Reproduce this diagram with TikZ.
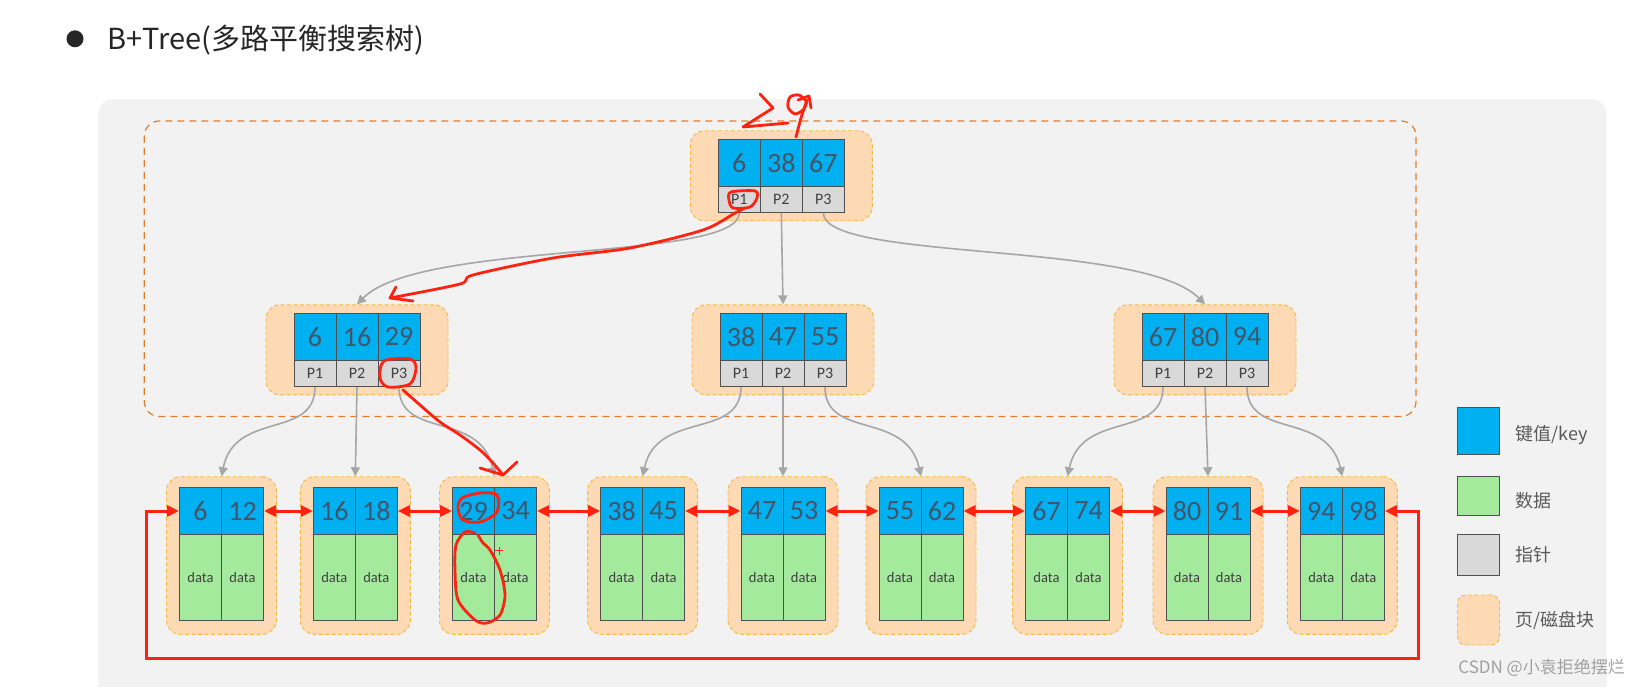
\documentclass[tikz,border=0pt]{standalone}
\usepackage{fontspec}
\setmainfont{Carlito}
\newfontfamily\cjk{Noto Sans CJK SC}
\usetikzlibrary{arrows.meta}
\definecolor{keyblue}{RGB}{0,176,240}
\definecolor{datagreen}{RGB}{164,234,157}
\definecolor{ptrgray}{RGB}{217,217,217}
\definecolor{cellline}{RGB}{80,80,80}
\definecolor{keytext}{RGB}{68,84,106}
\definecolor{darktext}{RGB}{64,64,64}
\definecolor{pagefill}{RGB}{253,217,180}
\definecolor{pageline}{RGB}{245,185,60}
\definecolor{outerline}{RGB}{225,125,45}
\definecolor{bggray}{RGB}{242,242,242}
\definecolor{linkgray}{RGB}{166,166,166}
\definecolor{redline}{RGB}{255,34,17}
\definecolor{titletext}{RGB}{38,38,38}
\definecolor{legendtext}{RGB}{89,89,89}
\definecolor{wmtext}{RGB}{160,160,160}
\tikzset{
  cellbase/.style={draw=cellline, line width=1pt, inner sep=0pt, minimum width=42pt},
  keycell/.style={cellbase, fill=keyblue, minimum height=47pt, text=keytext, font=\fontsize{28}{28}\selectfont},
  ptrcell/.style={cellbase, fill=ptrgray, minimum height=26pt, text=darktext, font=\fontsize{16}{16}\selectfont},
  datacell/.style={cellbase, fill=datagreen, minimum height=85.5pt, text=darktext, font=\fontsize{14.5}{14.5}\selectfont},
  pagebox/.style={draw=pageline, fill=pagefill, dash pattern=on 4pt off 2.5pt, line width=0.9pt, rounded corners=14pt, inner sep=0pt},
  link/.style={draw=linkgray, line width=1.6pt, -{Triangle[length=9pt,width=9pt]}},
  redlink/.style={draw=redline, line width=3pt, {Triangle[length=12pt,width=11pt]}-{Triangle[length=12pt,width=11pt]}},
  scribble/.style={draw=redline, line width=2.8pt, line cap=round, line join=round},
  legendlabel/.style={anchor=west, inner sep=0pt, text=legendtext, font=\cjk\fontsize{18}{18}\selectfont},
}
\newcommand{\bpinner}[6]{%
  \node[pagebox, minimum width=182pt, minimum height=90pt] (#1) at ({#2},{#3+36.5}) {};
  \node[keycell] (#1-k1) at ({#2-42},{#3+23.5}) {#4};
  \node[keycell] (#1-k2) at ({#2},{#3+23.5}) {#5};
  \node[keycell] (#1-k3) at ({#2+42},{#3+23.5}) {#6};
  \node[ptrcell] (#1-p1) at ({#2-42},{#3+60}) {P1};
  \node[ptrcell] (#1-p2) at ({#2},{#3+60}) {P2};
  \node[ptrcell] (#1-p3) at ({#2+42},{#3+60}) {P3};
}
\newcommand{\bpleaf}[4]{%
  \node[pagebox, minimum width=110pt, minimum height=157.6pt] (#1) at ({#2},555.5) {};
  \node[keycell] (#1-k1) at ({#2-21},511) {#3};
  \node[keycell] (#1-k2) at ({#2+21},511) {#4};
  \node[datacell] (#1-d1) at ({#2-21},577.25) {data};
  \node[datacell] (#1-d2) at ({#2+21},577.25) {data};
}
\begin{document}
\begin{tikzpicture}[x=1pt,y=-1pt]
\fill[white] (0,0) rectangle (1641,687);
\useasboundingbox (0,0) rectangle (1641,687);
% background panel
\begin{scope}
  \clip (0,0) rectangle (1641,687);
  \fill[bggray, rounded corners=15pt] (98.3,99.3) rectangle (1606.7,720);
\end{scope}
% title
\fill[titletext] (75,38.8) circle (8.5pt);
\node[anchor=base west, inner sep=0pt, text=titletext, font=\cjk\fontsize{29}{29}\selectfont] (title) at (107,50) {B+Tree(多路平衡搜索树)};
% outer dashed area
\draw[outerline, line width=1.2pt, dash pattern=on 7pt off 5pt, rounded corners=15pt] (144.3,121) rectangle (1416,416.5);
% inner nodes
\bpinner{r}{781.3}{139.3}{6}{38}{67}
\bpinner{m1}{357}{313.3}{6}{16}{29}
\bpinner{m2}{783}{313.3}{38}{47}{55}
\bpinner{m3}{1205}{313.3}{67}{80}{94}
% leaves
\bpleaf{l1}{221.5}{6}{12}
\bpleaf{l2}{355.3}{16}{18}
\bpleaf{l3}{494.5}{29}{34}
\bpleaf{l4}{642.6}{38}{45}
\bpleaf{l5}{783}{47}{53}
\bpleaf{l6}{921}{55}{62}
\bpleaf{l7}{1067.5}{67}{74}
\bpleaf{l8}{1208}{80}{91}
\bpleaf{l9}{1342.3}{94}{98}
% gray links root -> mid
\draw[link] (r-p1.south) .. controls (739.3,262) and (420,240) .. (m1.north);
\draw[link] (r-p2.south) -- (m2.north);
\draw[link] (r-p3.south) .. controls (823.3,262) and (1142,240) .. (m3.north);
% gray links mid -> leaves
\draw[link] (m1-p1.south) .. controls (315,440) and (235,410) .. (l1.north);
\draw[link] (m1-p2.south) -- (l2.north);
\draw[link] (m1-p3.south) .. controls (399,440) and (480,410) .. (l3.north);
\draw[link] (m2-p1.south) .. controls (741,440) and (657,410) .. (l4.north);
\draw[link] (m2-p2.south) -- (l5.north);
\draw[link] (m2-p3.south) .. controls (825,440) and (906,410) .. (l6.north);
\draw[link] (m3-p1.south) .. controls (1163,440) and (1082,410) .. (l7.north);
\draw[link] (m3-p2.south) -- (l8.north);
\draw[link] (m3-p3.south) .. controls (1247,440) and (1327,410) .. (l9.north);
% red leaf links
\draw[redlink] (l1-k2.east) -- (l2-k1.west);
\draw[redlink] (l2-k2.east) -- (l3-k1.west);
\draw[redlink] (l3-k2.east) -- (l4-k1.west);
\draw[redlink] (l4-k2.east) -- (l5-k1.west);
\draw[redlink] (l5-k2.east) -- (l6-k1.west);
\draw[redlink] (l6-k2.east) -- (l7-k1.west);
\draw[redlink] (l7-k2.east) -- (l8-k1.west);
\draw[redlink] (l8-k2.east) -- (l9-k1.west);
\coordinate (loopBR) at (1418.3,658.3);
\coordinate (loopBL) at (146.7,658.3);
\draw[redlink, line join=miter] (l9-k2.east) -| (loopBR) -- (loopBL) |- (l1-k1.west);
% legend
\node[draw=cellline, line width=1pt, fill=keyblue, minimum width=42pt, minimum height=47pt, inner sep=0pt] (lgkey) at (1478.3,430.8) {};
\node[draw=cellline, line width=1pt, fill=datagreen, minimum width=42pt, minimum height=39pt, inner sep=0pt] (lgdata) at (1478.5,495.7) {};
\node[draw=cellline, line width=1pt, fill=ptrgray, minimum width=42pt, minimum height=41pt, inner sep=0pt] (lgptr) at (1478.3,555) {};
\node[pagebox, rounded corners=8pt, minimum width=42pt, minimum height=50pt] (lgpage) at (1478.5,620) {};
\node[legendlabel] (lgkeyt) at (1515.7,435) {键值/key};
\node[legendlabel] (lgdatat) at (1515.7,500.7) {数据};
\node[legendlabel] (lgptrt) at (1515.7,555) {指针};
\node[legendlabel] (lgpaget) at (1515.7,620) {页/磁盘块};
% watermark
\node[anchor=east, inner sep=0pt, text=wmtext, font=\cjk\fontsize{17}{17}\selectfont] (wm) at (1625,668) {CSDN @小袁拒绝摆烂};
% red hand annotations
\draw[scribble] (760,94) -- (773,108) -- (743,127) -- (788,123);
\draw[scribble] plot[smooth] coordinates {(806,101) (799,95) (790,97) (788,107) (795,114) (804,109) (807,100)};
\draw[scribble] plot[smooth] coordinates {(807,100) (801,118) (796,137)};
\draw[scribble] (798,100) -- (809,96) -- (811,108);
\draw[scribble] plot[smooth cycle] coordinates {(731,192) (755,191) (757,198) (750,207) (733,208) (729,200)};
\draw[scribble] plot[smooth] coordinates {(745,208) (735,213) (703,230) (630,248) (553,258) (473,275) (460,284) (390,298)};
\draw[scribble] (396,287) -- (390,298) -- (413,301);
\draw[scribble] plot[smooth cycle] coordinates {(384,361) (410,359) (416,368) (410,384) (388,387) (380,378)};
\draw[scribble] plot[smooth] coordinates {(403,390) (420,405) (440,422) (460,435) (480,450) (493,463) (503,475)};
\draw[scribble] (480,468) -- (503,475) -- (517,462);
\draw[scribble] plot[smooth cycle] coordinates {(462,498) (480,493) (497,495) (497,512) (480,522) (463,520) (458,508)};
\draw[scribble] plot[smooth] coordinates {(475,533) (465,532) (456,545) (455,570) (458,600) (475,620) (487,623) (500,615) (505,595) (500,570) (490,550) (483,543) (478,535)};
\draw[redline, line width=1.5pt] (495.3,550.7) -- (503.3,550.7) (499.3,546.7) -- (499.3,554.7);
\end{tikzpicture}
\end{document}
